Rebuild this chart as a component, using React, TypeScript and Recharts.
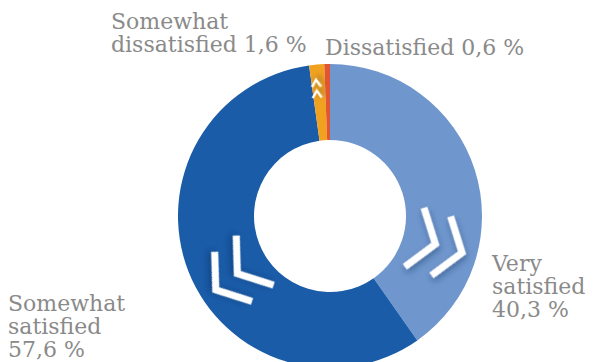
import { PieChart, Pie, Cell } from "recharts";

// satisfaction shares, clockwise from 12 o'clock
const names = ["Very satisfied", "Somewhat satisfied", "Somewhat dissatisfied", "Dissatisfied"];
const values = [40.3, 57.6, 1.6, 0.6];
const valueLabels = ["40,3 %", "57,6 %", "1,6 %", "0,6 %"];
const colors = ["#6f97cd", "#1a5ca8", "#f0a11f", "#e2552f"];

const chartData = names.map((name, i) => ({ name, value: values[i] }));

// text lines per slice, placed relative to the pie centre
const labelLayout: Record<string, { dx: number; dy: number; gap: number; lines: string[] }> = {
  "Very satisfied": { dx: 162, dy: 55, gap: 23, lines: ["Very", "satisfied", valueLabels[0]] },
  "Somewhat satisfied": { dx: -322, dy: 95, gap: 23, lines: ["Somewhat", "satisfied", valueLabels[1]] },
  "Somewhat dissatisfied": { dx: -219, dy: -187, gap: 23, lines: ["Somewhat", "dissatisfied " + valueLabels[2]] },
  "Dissatisfied": { dx: -5, dy: -161, gap: 23, lines: ["Dissatisfied " + valueLabels[3]] },
};

// decorative chevrons pointing outwards (angle in degrees, r as fraction of outer radius, dir = pointing direction)
const chevrons: Record<string, { angle: number; dir: number; r: number; h: number; d: number; t: number; gap: number; n: number }> = {
  "Very satisfied": { angle: -15, dir: -18, r: 0.737, h: 31, d: 22, t: 7, gap: 28, n: 2 },
  "Somewhat satisfied": { angle: -148, dir: -143, r: 0.734, h: 31, d: 22, t: 7, gap: 27, n: 2 },
  "Somewhat dissatisfied": { angle: 96, dir: 94, r: 0.842, h: 4.5, d: 7, t: 2.2, gap: 11, n: 2 },
};

const RAD = Math.PI / 180;

function renderLabel(props: any) {
  const { cx, cy, outerRadius, name, index } = props;
  const lay = labelLayout[name];
  const chev = chevrons[name];
  const fid = `chev-shadow-${index}`;
  let chevNode = null;
  if (chev) {
    const r = outerRadius * chev.r;
    const x = cx + r * Math.cos(chev.angle * RAD);
    const y = cy - r * Math.sin(chev.angle * RAD);
    const offs = Array.from({ length: chev.n }, (_, k) => (k - (chev.n - 1) / 2) * chev.gap);
    chevNode = (
      <g transform={`translate(${x},${y}) rotate(${-chev.dir})`} filter={`url(#${fid})`}>
        {offs.map((o, k) => (
          <polyline
            key={k}
            points={`${o - chev.d / 2},${-chev.h} ${o + chev.d / 2},0 ${o - chev.d / 2},${chev.h}`}
            fill="none"
            stroke="#ffffff"
            strokeWidth={chev.t}
            strokeLinejoin="miter"
            strokeLinecap="butt"
          />
        ))}
      </g>
    );
  }
  return (
    <g>
      <defs>
        <filter id={fid} x="-50%" y="-50%" width="200%" height="200%">
          <feDropShadow dx="2" dy="3" stdDeviation="3" floodColor="#0a2a55" floodOpacity="0.4" />
        </filter>
      </defs>
      {chevNode}
      {lay && (
        <text
          x={cx + lay.dx}
          y={cy + lay.dy}
          fill="#8a8a8a"
          fontSize={22}
          fontFamily="DejaVu Serif"
          textAnchor="start"
        >
          {lay.lines.map((line, i) => (
            <tspan key={i} x={cx + lay.dx} y={cy + lay.dy + i * lay.gap}>
              {line}
            </tspan>
          ))}
        </text>
      )}
    </g>
  );
}

export default function App() {
  return (
    <div style={{ position: "absolute", left: 0, top: 0, width: 595, height: 362, background: "#ffffff" }}>
      <PieChart width={595} height={362} margin={{ top: 0, right: 0, bottom: 0, left: 0 }}>
        <Pie
          data={chartData}
          dataKey="value"
          nameKey="name"
          cx={330}
          cy={216}
          innerRadius={76}
          outerRadius={152}
          startAngle={90}
          endAngle={-270}
          stroke="none"
          label={renderLabel}
          labelLine={false}
          isAnimationActive={false}
        >
          {chartData.map((d, i) => (
            <Cell key={d.name} fill={colors[i]} />
          ))}
        </Pie>
      </PieChart>
    </div>
  );
}
